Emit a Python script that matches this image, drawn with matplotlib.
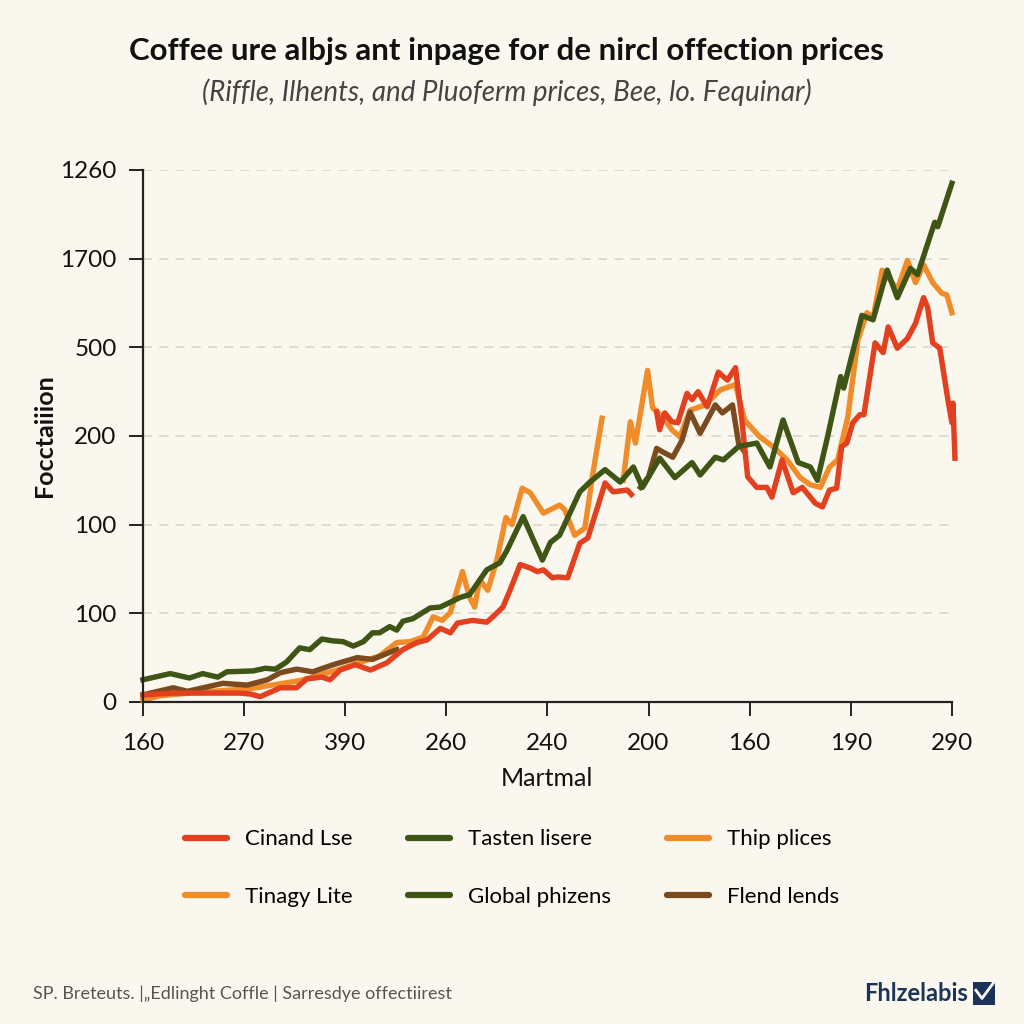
import numpy as np
import matplotlib.pyplot as plt
from matplotlib.lines import Line2D
from matplotlib.patches import Rectangle

plt.rcParams['font.family'] = ['Lato', 'DejaVu Sans']

nan = np.nan

# x: position along the "Martmal" axis (0..80), y: position on the axis scale (0..60)
xtick_labels = ["160", "270", "390", "260", "240", "200", "160", "190", "290"]
ytick_labels = ["0", "100", "100", "200", "500", "1700", "1260"]

green_x = [0, 2.7, 4.6, 5.9, 7.4, 8.3, 10.9, 12.1, 13.1, 14.2, 15.5, 16.5, 17.7, 18.7, 19.8,
           20.8, 21.8, 22.7, 23.4, 24.4, 25.1, 25.7, 26.7, 28.4, 29.4, 31.4, 32.3, 34.0, 35.3,
           36.0, 37.6, 38.6, 39.5, 40.3, 41.2, 43.2, 44.2, 45.7, 47.2, 48.5, 49.4, 51.1, 52.6,
           54.3, 55.1, 56.6, 57.4, 58.9, 60.7, 62.0, 63.3, 64.8, 66.0, 66.7, 67.7, 69.0, 69.3,
           71.1, 72.2, 73.6, 74.6, 75.9, 76.6, 78.3, 78.6, 80.0]
green_y = [2.5, 3.2, 2.7, 3.2, 2.8, 3.4, 3.5, 3.8, 3.7, 4.5, 6.1, 5.9, 7.1, 6.9, 6.8,
           6.3, 6.8, 7.8, 7.8, 8.5, 8.1, 9.1, 9.4, 10.6, 10.7, 11.8, 12.1, 14.9, 15.7,
           17.1, 20.9, 18.3, 16.0, 18.0, 18.8, 23.7, 24.8, 26.2, 24.8, 26.5, 24.2, 27.5, 25.3,
           27.0, 25.6, 27.6, 27.3, 28.8, 29.2, 26.5, 31.8, 27.0, 26.5, 25.0, 29.9, 36.7, 35.4,
           43.6, 43.1, 48.7, 45.6, 48.9, 48.2, 54.1, 53.6, 58.5]

red_x = [0, 3.0, 9.6, 10.6, 11.6, 13.6, 15.2, 16.2, 17.7, 18.5, 19.5, 21.0, 22.5, 24.1, 25.7,
         27.1, 28.1, 29.4, 30.4, 31.1, 32.6, 34.0, 34.6, 35.6, 36.3, 37.3, 38.3, 39.0, 39.6,
         40.5, 41.0, 42.0, 43.2, 44.0, 45.7, 46.5, 47.9, 48.3,
         48.6,
         50.8, 51.1, 51.6, 52.3, 52.9, 53.8, 54.3, 54.9, 55.8, 56.9, 57.8, 58.6, 59.2, 59.8,
         60.7, 61.7, 62.2, 63.2, 64.3, 65.2, 66.5, 67.2, 67.9, 68.6, 69.1, 69.6, 70.2, 70.9,
         71.3, 72.4, 73.2, 73.7, 74.6, 75.6, 76.4, 77.2, 77.6, 78.1, 78.8, 79.6, 80.0,
         80.1, 80.3]
red_y = [0.8, 1.0, 1.0, 0.9, 0.6, 1.6, 1.6, 2.6, 2.8, 2.5, 3.6, 4.2, 3.6, 4.4, 5.9,
         6.7, 7.0, 8.3, 7.8, 8.9, 9.2, 9.0, 9.6, 10.7, 12.6, 15.5, 15.1, 14.7, 14.9,
         14.0, 14.1, 14.0, 17.9, 18.5, 24.7, 23.7, 23.9, 23.4,
         nan,
         32.7, 30.7, 32.6, 31.6, 31.5, 34.8, 34.1, 35.0, 33.3, 37.2, 36.3, 37.7, 32.1, 25.4,
         24.2, 24.2, 23.1, 27.3, 23.6, 24.2, 22.4, 22.0, 23.9, 24.1, 28.8, 29.2, 31.5, 32.4,
         32.4, 40.5, 39.4, 42.3, 39.9, 41.0, 42.7, 45.6, 44.5, 40.5, 39.9, 34.1, 31.5,
         33.7, 27.5]

thip_x = [0, 1.7, 5.6, 10.6, 15.5, 19.5, 23.4, 25.1, 26.4, 27.7, 28.7, 29.6, 30.4, 31.6,
          32.3, 32.8, 33.3, 34.1, 35.0, 35.9, 36.5, 37.5, 38.3, 39.6, 41.2, 41.7, 42.7, 43.7,
          44.5, 45.4]
thip_y = [0.2, 0.7, 1.1, 1.5, 2.4, 3.7, 5.2, 6.7, 6.8, 7.3, 9.6, 9.2, 10.1, 14.7,
          11.8, 10.7, 13.8, 12.6, 16.0, 20.8, 20.0, 24.1, 23.6, 21.3, 22.2, 21.7, 18.8, 19.6,
          25.8, 32.0]

tinagy_x = [47.5, 48.2, 48.7, 49.9, 50.4, 51.4, 52.3, 53.1, 54.1, 55.6, 57.1, 58.6, 59.5,
            60.2, 61.0, 62.3, 63.7, 65.0, 66.0, 67.0, 67.9, 68.7, 69.7, 70.7, 71.6, 72.2,
            73.1, 73.7, 74.6, 75.6, 76.4, 77.2, 78.1, 79.0, 79.5, 80.0]
tinagy_y = [25.0, 31.6, 29.2, 37.4, 33.2, 32.1, 30.7, 29.9, 32.9, 33.5, 35.2, 35.8, 31.8,
            30.9, 29.9, 28.8, 27.3, 25.3, 24.5, 24.2, 26.5, 27.3, 32.1, 40.8, 43.9, 43.3,
            48.7, 47.9, 46.5, 49.8, 47.3, 49.3, 47.3, 46.1, 45.9, 43.9]

brown_x = [0, 3.0, 4.4, 7.9, 10.3, 12.3, 13.6, 15.2, 16.8, 18.8, 21.2, 22.7, 24.2, 25.1,
           26.0,
           49.2, 50.0, 50.8, 51.4, 52.4, 53.3, 54.1, 55.1, 56.6, 57.3, 58.3, 58.9, 59.5]
brown_y = [0.8, 1.6, 1.2, 2.1, 1.9, 2.5, 3.3, 3.7, 3.4, 4.2, 5.0, 4.8, 5.5, 5.9,
           nan,
           24.2, 25.4, 28.6, 28.2, 27.6, 29.5, 32.7, 30.3, 33.5, 32.6, 33.5, 29.2, 28.2]

RED = "#e2401f"
GREEN = "#3e5515"
ORANGE = "#f08c2a"
BROWN = "#7b4a1f"
BG = "#faf8ee"

fig = plt.figure(figsize=(10.24, 10.24), dpi=100, facecolor=BG)
ax = fig.add_axes([0.1396, 0.3145, 0.790, 0.5195], facecolor=BG)

lw = 3.9
ax.plot(thip_x, thip_y, color=ORANGE, lw=lw, solid_joinstyle="round", clip_on=False)
ax.plot(tinagy_x, tinagy_y, color=ORANGE, lw=lw, solid_joinstyle="round", clip_on=False)
ax.plot(brown_x, brown_y, color=BROWN, lw=lw, solid_joinstyle="round", clip_on=False)
ax.plot(red_x, red_y, color=RED, lw=lw, solid_joinstyle="round", clip_on=False)
ax.plot(green_x, green_y, color=GREEN, lw=lw, solid_joinstyle="round", clip_on=False)

ax.set_xlim(0, 80)
ax.set_ylim(0, 60)
ax.set_xticks(np.arange(0, 81, 10))
ax.set_xticklabels(xtick_labels)
ax.set_yticks(np.arange(0, 61, 10))
ax.set_yticklabels(ytick_labels)
ax.tick_params(axis="both", direction="out", length=10, width=1.4, color="#222222",
               labelsize=17.5, pad=9, labelcolor="#111111")
ax.tick_params(axis="x", pad=12)
for y in range(10, 61, 10):
    ax.axhline(y, color="#dcdad0", lw=1.3, ls=(0, (5, 4)), zorder=0)

for s in ["top", "right"]:
    ax.spines[s].set_visible(False)
for s in ["left", "bottom"]:
    ax.spines[s].set_linewidth(1.6)
    ax.spines[s].set_color("#222222")

ax.set_xlabel("Martmal", fontsize=18, labelpad=10, color="#111111")
fig.text(0.043, 0.575, "Focctaiiion", rotation=90, fontsize=18, fontweight="bold",
         ha="center", va="center", color="#111111")

fig.text(0.495, 0.950, "Coffee ure albjs ant inpage for de nircl offection prices",
         fontsize=22.5, fontweight="bold", ha="center", va="center", color="#111111")
fig.text(0.495, 0.910, "(Riffle, Ilhents, and Pluoferm prices, Bee, lo. Fequinar)",
         fontsize=20, style="italic", ha="center", va="center", color="#444444")

handles = [
    Line2D([], [], color=RED, lw=4.5, solid_capstyle="round"),
    Line2D([], [], color=ORANGE, lw=4.5, solid_capstyle="round"),
    Line2D([], [], color=GREEN, lw=4.5, solid_capstyle="round"),
    Line2D([], [], color=GREEN, lw=4.5, solid_capstyle="round"),
    Line2D([], [], color=ORANGE, lw=4.5, solid_capstyle="round"),
    Line2D([], [], color=BROWN, lw=4.5, solid_capstyle="round"),
]
labels = ["Cinand Lse", "Tinagy Lite", "Tasten lisere", "Global phizens",
          "Thip plices", "Flend lends"]
fig.legend(handles, labels, ncol=3, loc="center", bbox_to_anchor=(0.5, 0.152),
           frameon=False, fontsize=16, handlelength=1.9, handletextpad=0.8,
           columnspacing=2.5, labelspacing=1.7)

fig.text(0.032, 0.030, "SP. Breteuts. |„Edlinght Coffle | Sarresdye offectiirest",
         fontsize=13, color="#555555", ha="left", va="center")
fig.text(0.945, 0.030, "Fhlzelabis", fontsize=17, fontweight="bold", color="#1b3358",
         ha="right", va="center")
fig.patches.append(Rectangle((0.950, 0.019), 0.022, 0.022, transform=fig.transFigure,
                             facecolor="#1b3358", edgecolor="none"))
fig.lines.append(Line2D([0.953, 0.959, 0.970], [0.033, 0.025, 0.040], transform=fig.transFigure,
                        color="white", lw=2))

fig.savefig("out.png", dpi=100, facecolor=BG)
